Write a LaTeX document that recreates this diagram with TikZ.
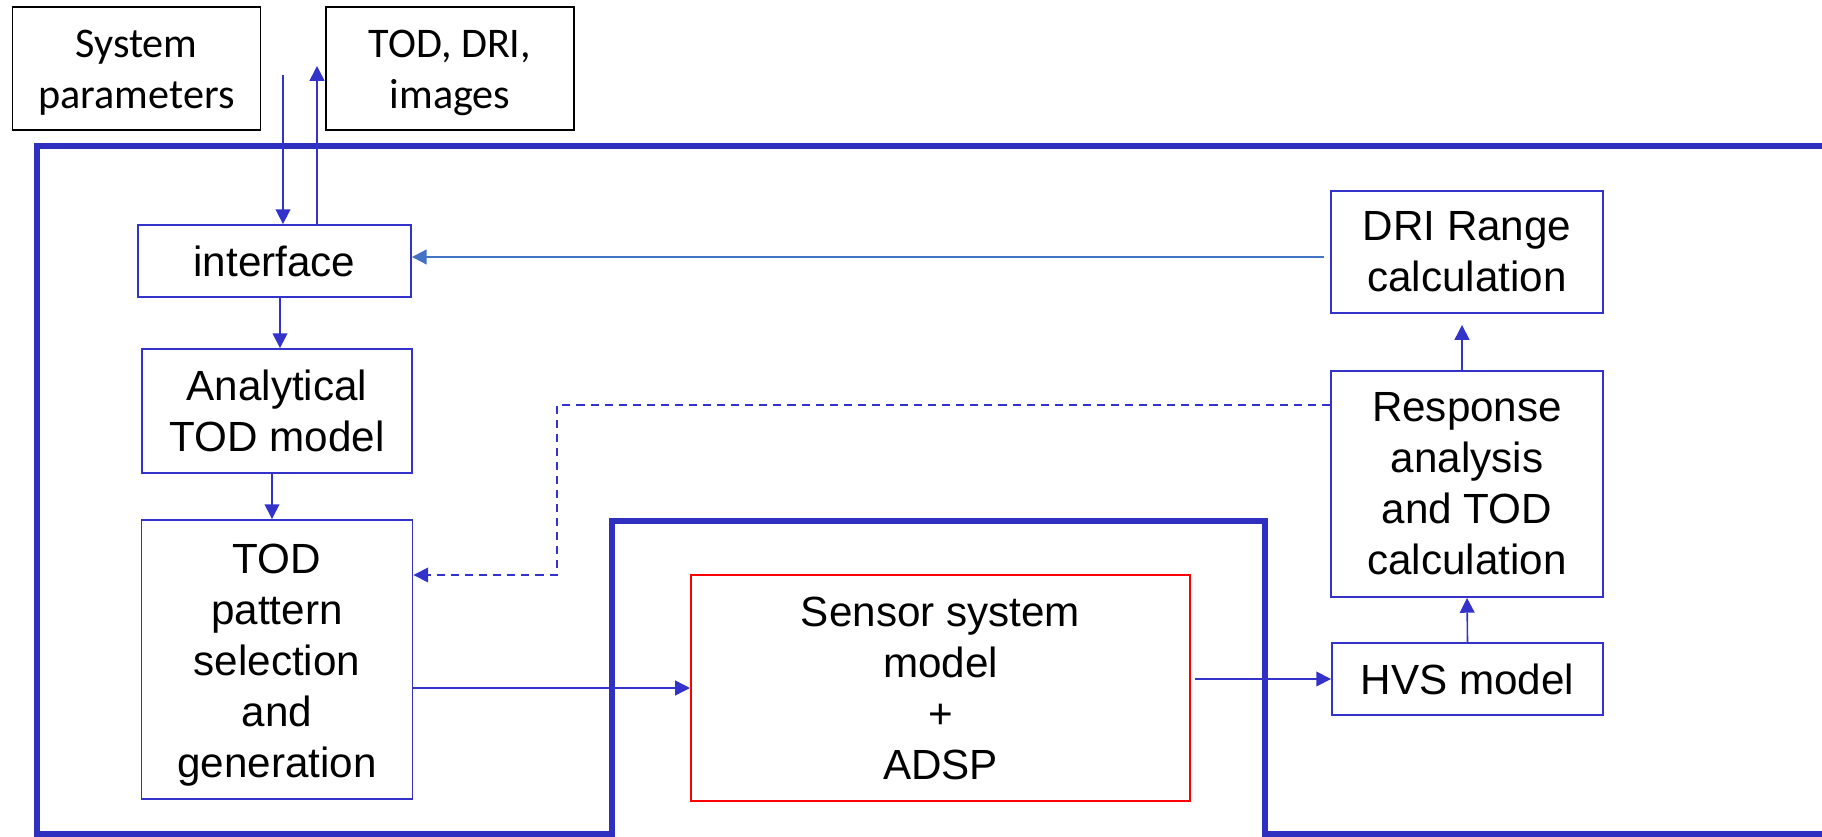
\documentclass[tikz,border=0pt]{standalone}
\usepackage{fontspec}
\setmainfont{Liberation Sans}
\newfontfamily\calfont{Carlito}
\usetikzlibrary{arrows.meta}
\definecolor{bl}{RGB}{51,51,204}
\definecolor{fr}{RGB}{48,48,192}
\definecolor{lb}{RGB}{68,114,196}
\begin{document}
\begin{tikzpicture}[x=0.01cm,y=-0.01cm,
  box/.style={draw=bl,line width=0.5pt,inner sep=0pt,align=center,font=\fontsize{12}{14.5}\selectfont},
  kbox/.style={draw=black,line width=0.45pt,inner sep=0pt,align=center,font=\calfont\fontsize{12}{14.5}\selectfont,text height=25.5pt,text depth=2.56pt},
  rbox/.style={box,draw=red},
  arr/.style={draw=bl,line width=0.45pt,-{Triangle[length=4.2pt,width=4.2pt]}},
  arrl/.style={arr,draw=lb,line width=0.6pt},
  dsh/.style={arr,dash pattern=on 2.3pt off 1.7pt},
  frame/.style={draw=fr,line width=1.5pt}]
\useasboundingbox (0,0) rectangle (1822,837);
% frame
\draw[frame] (1822,146) -- (37,146) -- (37,834) -- (612,834) -- (612,521) -- (1265,521) -- (1265,834) -- (1822,834);
% nodes
\node[kbox,minimum width=2.48cm,minimum height=1.23cm] (sys) at (136.5,68.5) {System\\parameters};
\node[kbox,minimum width=2.48cm,minimum height=1.23cm] (tod) at (450,68.5) {TOD, DRI,\\images};
\node[box,minimum width=2.73cm,minimum height=0.72cm] (iface) at (274.5,261) {interface};
\node[box,minimum width=2.70cm,minimum height=1.24cm] (anal) at (277,411) {Analytical\\TOD model};
\node[box,minimum width=2.71cm,minimum height=2.79cm,text height=69.4pt,text depth=2.56pt] (todp) at (277,659.5) {TOD\\pattern\\selection\\and\\generation};
\node[rbox,minimum width=4.99cm,minimum height=2.26cm] (sensor) at (940.5,688) {Sensor system\\model\\+\\ADSP};
\node[box,minimum width=2.71cm,minimum height=0.72cm] (hvs) at (1467.5,679) {HVS model};
\node[box,minimum width=2.72cm,minimum height=2.26cm] (resp) at (1467,484) {Response\\analysis\\and TOD\\calculation};
\node[box,minimum width=2.72cm,minimum height=1.22cm] (dri) at (1467,252) {DRI Range\\calculation};
% connectors
\coordinate (sysout) at (283,75);
\coordinate (todin) at (317,66);
\coordinate (drio) at (1324,257);
\coordinate (seo) at (1195,679);
\coordinate (drin) at (1462,325);
\coordinate (dk1) at (557,405);
\coordinate (dk2) at (557,575);
\draw[arr] (sysout) -- (sysout |- iface.north);
\draw[arr] (iface.north -| todin) -- (todin);
\draw[arrl] (drio) -- (iface.east |- drio);
\draw[arr] (iface.south -| 280,0) -- (anal.north -| 280,0);
\draw[arr] (anal.south -| 272,0) -- (todp.north -| 272,0);
\draw[arr] (todp.east |- sensor.west) -- (sensor.west);
\draw[arr] (seo) -- (hvs.west);
\draw[arr] (hvs.north) -- (resp.south);
\draw[arr] (resp.north -| drin) -- (drin);
\draw[dsh] (resp.west |- dk1) -- (dk1) -- (dk2) -- (todp.east |- dk2);
\end{tikzpicture}
\end{document}
